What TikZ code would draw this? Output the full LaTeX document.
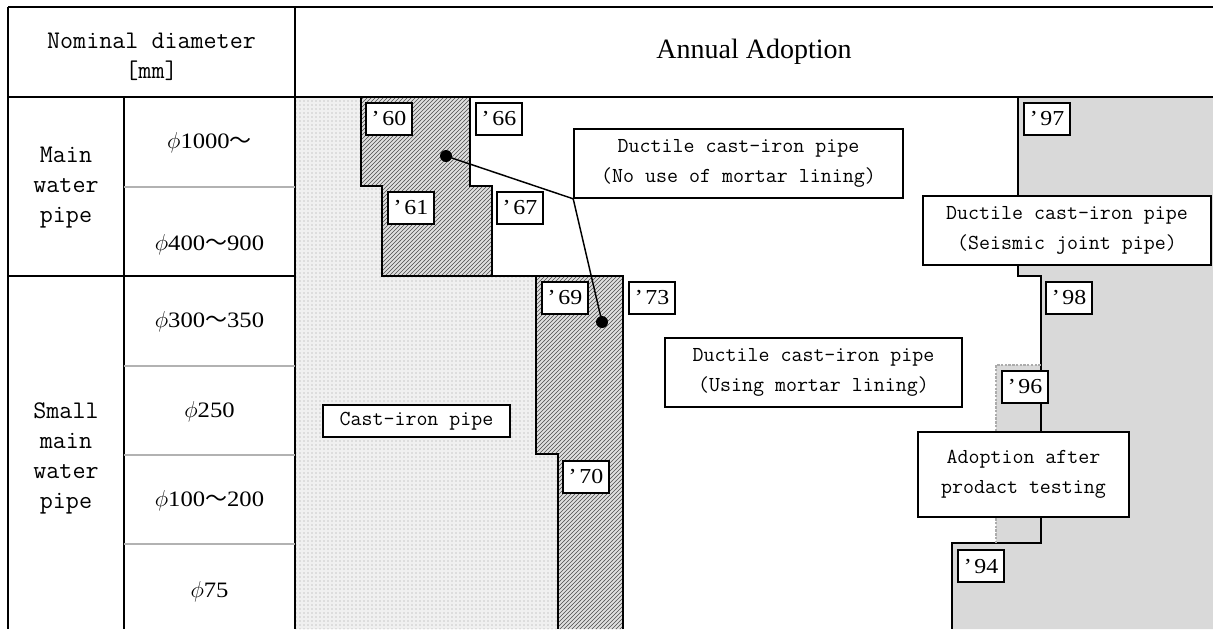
\documentclass[tikz,border=0pt]{standalone}
\usepackage{fontspec}
\setmainfont{Liberation Serif}
\newfontfamily\numfont[FakeStretch=1.12]{Liberation Serif}
\newfontfamily\cjk{Noto Sans CJK JP}
\newcommand\wave{{\cjk ～}}
\usetikzlibrary{patterns}

\begin{document}
\begin{tikzpicture}[x=0.75pt,y=-0.75pt,
  heavy/.style={line width=2.2pt, line join=miter},
  rowsep/.style={line width=1.4pt, gray!60},
  castfill/.style={fill=gray!12, postaction={pattern=dots, pattern color=gray!75}},
  hatchfill/.style={fill=gray!25, postaction={pattern=north east lines, pattern color=black!70}},
  seismicfill/.style={fill=gray!30},
  boxsize/.style 2 args={minimum width=#1*0.75pt, minimum height=#2*0.75pt},
  yearbox/.style={draw, line width=1.2pt, fill=white, inner sep=0pt,
    minimum width=34.5pt, minimum height=24pt,
    font=\numfont\fontsize{16}{18}\selectfont},
  labelbox/.style={draw, line width=1.2pt, fill=white, inner sep=0pt, align=center,
    font=\ttfamily\fontsize{16}{22.5}\selectfont},
  tabletext/.style={align=center, inner sep=0pt,
    font=\ttfamily\fontsize{19}{22.5}\selectfont},
  sizetext/.style={inner sep=0pt, font=\numfont\fontsize{16.5}{18}\selectfont},
  dotnode/.style={circle, fill=black, inner sep=0pt, minimum size=9pt},
  leader/.style={line width=1.1pt}
]
\useasboundingbox (0,0) rectangle (1213,629);

% ---- regions ----
% cast-iron pipe
\path[castfill] (295,97) -- (361,97) -- (361,186) -- (382,186) -- (382,276)
  -- (536,276) -- (536,454) -- (558,454) -- (558,629) -- (295,629) -- cycle;
% ductile pipe without mortar lining
\path[hatchfill] (361,97) -- (470,97) -- (470,186) -- (492,186) -- (492,276)
  -- (382,276) -- (382,186) -- (361,186) -- cycle;
% ductile pipe with mortar lining
\path[hatchfill] (536,276) -- (623,276) -- (623,629) -- (558,629) -- (558,454)
  -- (536,454) -- cycle;
% seismic joint pipe
\path[seismicfill] (1018,97) -- (1213,97) -- (1213,629) -- (952,629) -- (952,543)
  -- (996,543) -- (996,365) -- (1041,365) -- (1041,276) -- (1018,276) -- cycle;

% ---- region borders ----
\draw[heavy] (361,97) -- (470,97) -- (470,186) -- (492,186) -- (492,276)
  -- (382,276) -- (382,186) -- (361,186) -- cycle;
\draw[heavy] (382,276) -- (623,276) -- (623,629);
\draw[heavy] (536,276) -- (536,454) -- (558,454) -- (558,629);
\draw[heavy] (1018,97) -- (1018,276) -- (1041,276) -- (1041,543) -- (952,543) -- (952,629);
\draw[line width=1.8pt, gray!65, densely dotted] (996,543) -- (996,365) -- (1041,365);

% ---- table frame ----
\draw[heavy] (8,7) -- (1213,7);
\draw[heavy] (8,97) -- (1213,97);
\draw[heavy] (8,7) -- (8,629);
\draw[heavy] (295,7) -- (295,629);
\draw[heavy] (124,97) -- (124,629);
\draw[heavy] (8,276) -- (295,276);
\foreach \yy in {187,366,455,544}
  \draw[rowsep] (124,\yy) -- (295,\yy);

% ---- table texts ----
\node[tabletext] (hdr) at (151.5,57) {Nominal diameter\\{[mm]}};
\node[font=\fontsize{21}{25}\selectfont, inner sep=0pt] (annual) at (754,52) {Annual Adoption};
\node[tabletext] (mainpipe) at (66,188) {Main\\water\\pipe};
\node[tabletext] (smallpipe) at (66,458) {Small\\main\\water\\pipe};
\node[sizetext] (d1000) at (209.5,143) {$\phi$1000\wave};
\node[sizetext] (d400) at (209.5,245) {$\phi$400\wave 900};
\node[sizetext] (d300) at (209.5,322) {$\phi$300\wave 350};
\node[sizetext] (d250) at (209.5,412) {$\phi$250};
\node[sizetext] (d100) at (209.5,501) {$\phi$100\wave 200};
\node[sizetext] (d75) at (209.5,592) {$\phi$75};

% ---- year markers ----
\node[yearbox] (y60) at (389,119) {’\hspace{2pt}60};
\node[yearbox] (y66) at (499,119) {’\hspace{2pt}66};
\node[yearbox] (y61) at (411,208) {’\hspace{2pt}61};
\node[yearbox] (y67) at (520,208) {’\hspace{2pt}67};
\node[yearbox] (y69) at (565,298) {’\hspace{2pt}69};
\node[yearbox] (y73) at (652,298) {’\hspace{2pt}73};
\node[yearbox] (y70) at (586,477) {’\hspace{2pt}70};
\node[yearbox] (y97) at (1047,119) {’\hspace{2pt}97};
\node[yearbox] (y98) at (1069,298) {’\hspace{2pt}98};
\node[yearbox] (y96) at (1025,387) {’\hspace{2pt}96};
\node[yearbox] (y94) at (981,566) {’\hspace{2pt}94};

% ---- pipe labels ----
\node[labelbox, boxsize={329}{69}] (nomortar) at (738.5,163.5)
  {Ductile cast-iron pipe\\(No use of mortar lining)};
\node[labelbox, boxsize={288}{69}] (seismic) at (1067,230.5)
  {Ductile cast-iron pipe\\(Seismic joint pipe)};
\node[labelbox, boxsize={297}{69}] (mortar) at (813.5,372.5)
  {Ductile cast-iron pipe\\(Using mortar lining)};
\node[labelbox, boxsize={211}{85}] (testing) at (1023.5,474.5)
  {Adoption after\\prodact testing};
\node[labelbox, boxsize={187}{32}] (castiron) at (416.5,421) {Cast-iron pipe};

% ---- leader from the no-mortar label to both hatched areas ----
\node[dotnode] (dot1) at (446,156) {};
\node[dotnode] (dot2) at (602,322) {};
\draw[leader] (dot1.center) -- (nomortar.south west) -- (dot2.center);
\end{tikzpicture}
\end{document}
